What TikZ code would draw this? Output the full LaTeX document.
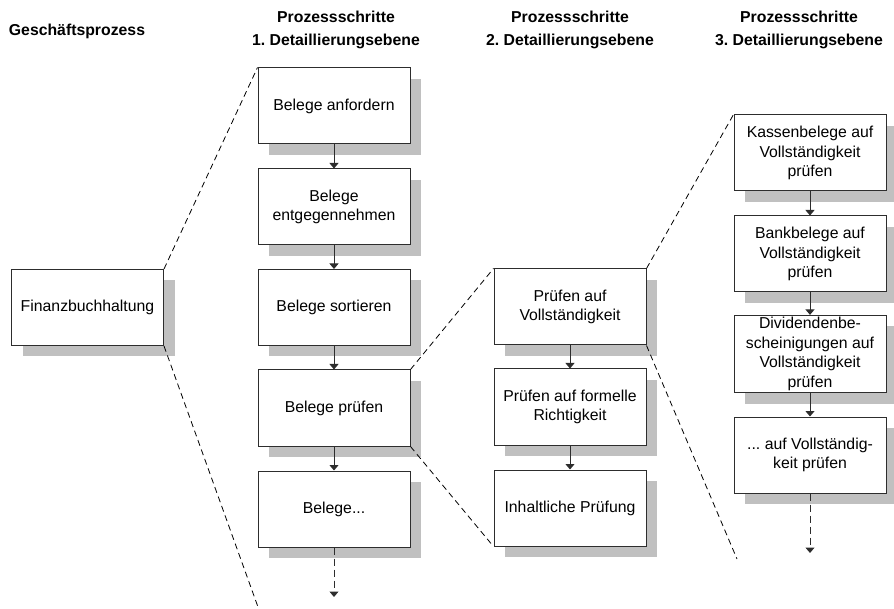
\documentclass[tikz,border=0pt]{standalone}
\usepackage{fontspec}
\setmainfont{Liberation Sans}
\usetikzlibrary{arrows.meta,shadows}
\definecolor{schatten}{RGB}{192,192,192}
\definecolor{rahmen}{RGB}{45,45,45}
\frenchspacing

\begin{document}
\begin{tikzpicture}[x=1pt,y=-1pt,
		schritt/.style={draw=rahmen, line width=1pt, fill=white, minimum width=152pt, minimum height=76pt,
			align=center, inner sep=2pt, font=\fontsize{15.8}{19.5}\selectfont,
			drop shadow={shadow xshift=11pt, shadow yshift=-11pt, fill=schatten, opacity=1}},
		kopf/.style={align=center, font=\fontsize{15.8}{23}\selectfont\bfseries},
		pfeil/.style={draw=rahmen, line width=1pt, -{Triangle[width=9pt,length=5.5pt]}},
		weiter/.style={pfeil, dash pattern=on 7pt off 4pt},
		lupe/.style={line width=0.8pt, dash pattern=on 6pt off 4pt}]
			\useasboundingbox (0,0) rectangle (894,609);
			\node[kopf] (k1) at (77,31) {Geschäftsprozess};
			\node[kopf] (k2) at (336,30) {Prozessschritte\\1. Detaillierungsebene};
			\node[kopf] (k3) at (570,30) {Prozessschritte\\2. Detaillierungsebene};
			\node[kopf] (k4) at (799,30) {Prozessschritte\\3. Detaillierungsebene};
			\node[schritt] (fibu) at (87.5,307.5) {Finanzbuchhaltung};
			\node[schritt] (anf) at (334,106) {Belege anfordern};
			\node[schritt] (entg) at (334,207) {Belege\\entgegennehmen};
			\node[schritt] (sort) at (334,307.5) {Belege sortieren};
			\node[schritt] (pruef) at (334,408) {Belege prüfen};
			\node[schritt] (rest) at (334,509) {Belege...};
			\node[schritt] (voll) at (570,307) {Prüfen auf\\Vollständigkeit};
			\node[schritt] (form) at (570,407) {Prüfen auf formelle\\Richtigkeit};
			\node[schritt] (inh) at (570,508) {Inhaltliche Prüfung};
			\node[schritt] (kasse) at (810,153) {Kassenbelege auf\\Vollständigkeit\\prüfen};
			\node[schritt] (bank) at (810,254) {Bankbelege auf\\Vollständigkeit\\prüfen};
			\node[schritt] (divi) at (810,354) {Dividendenbe-\\scheinigungen auf\\Vollständigkeit\\prüfen};
			\node[schritt] (sonst) at (810,455) {... auf Vollständig-\\keit prüfen};
			\coordinate (endeA) at (334,597);
			\coordinate (endeB) at (810,553);
			\coordinate (lupeA) at (258,607);
			\coordinate (lupeB) at (737,559);
			\draw[pfeil] (anf) -- (entg);
			\draw[pfeil] (entg) -- (sort);
			\draw[pfeil] (sort) -- (pruef);
			\draw[pfeil] (pruef) -- (rest);
			\draw[weiter] (rest) -- (endeA);
			\draw[pfeil] (voll) -- (form);
			\draw[pfeil] (form) -- (inh);
			\draw[pfeil] (kasse) -- (bank);
			\draw[pfeil] (bank) -- (divi);
			\draw[pfeil] (divi) -- (sonst);
			\draw[weiter] (sonst) -- (endeB);
			\draw[lupe] (fibu.north east) -- (anf.north west);
			\draw[lupe] (fibu.south east) -- (lupeA);
			\draw[lupe] (pruef.north east) -- (voll.north west);
			\draw[lupe] (pruef.south east) -- (inh.south west);
			\draw[lupe] (voll.north east) -- (kasse.north west);
			\draw[lupe] (voll.south east) -- (lupeB);
		\end{tikzpicture}
\end{document}
